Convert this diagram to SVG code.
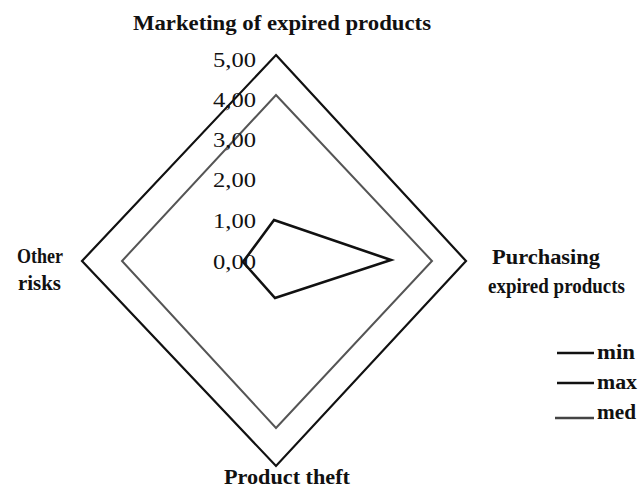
<svg xmlns="http://www.w3.org/2000/svg" width="640" height="489" viewBox="0 0 640 489">
<style>
.lbl{font-family:"Liberation Serif","Times New Roman",serif;font-weight:bold;font-size:20px;fill:#111}
.ax{font-family:"Liberation Serif","Times New Roman",serif;font-size:20px;fill:#111}
.leg{font-family:"Liberation Serif","Times New Roman",serif;font-weight:bold;font-size:20px;fill:#111}
.s{fill:none;stroke-linejoin:miter}
</style>
<rect width="640" height="489" fill="#fff"/>
<g id="connectors">
<polygon id="max" class="s" points="276,55 466,261 276,466 82,261" stroke="#111" stroke-width="2.2"/>
<polygon id="med" class="s" points="276,95 432,261 276,428 122,261" stroke="#555" stroke-width="2"/>
<polygon id="min" class="s" points="274,220 391,260 275,298 243,262" stroke="#111" stroke-width="2.6"/>
</g>
<g id="axis">
<text class="ax" x="256" y="67" text-anchor="end" textLength="43" lengthAdjust="spacingAndGlyphs">5,00</text>
<text class="ax" x="256" y="107" text-anchor="end" textLength="43" lengthAdjust="spacingAndGlyphs">4,00</text>
<text class="ax" x="256" y="147" text-anchor="end" textLength="43" lengthAdjust="spacingAndGlyphs">3,00</text>
<text class="ax" x="256" y="187" text-anchor="end" textLength="43" lengthAdjust="spacingAndGlyphs">2,00</text>
<text class="ax" x="256" y="228" text-anchor="end" textLength="43" lengthAdjust="spacingAndGlyphs">1,00</text>
<text class="ax" x="256" y="269" text-anchor="end" textLength="43" lengthAdjust="spacingAndGlyphs">0,00</text>
</g>
<g id="node-marketing"><text class="lbl" x="133" y="30" textLength="298" lengthAdjust="spacingAndGlyphs">Marketing of expired products</text></g>
<g id="node-purchasing">
<text class="lbl" x="492" y="264" font-size="21" textLength="108" lengthAdjust="spacingAndGlyphs">Purchasing</text>
<text class="lbl" x="488" y="293" font-size="21" textLength="137" lengthAdjust="spacingAndGlyphs">expired products</text>
</g>
<g id="node-theft"><text class="lbl" x="224" y="484" font-size="21" textLength="126" lengthAdjust="spacingAndGlyphs">Product theft</text></g>
<g id="node-other">
<text class="lbl" x="17" y="263" font-size="21" textLength="46" lengthAdjust="spacingAndGlyphs">Other</text>
<text class="lbl" x="18" y="290" font-size="21" textLength="43" lengthAdjust="spacingAndGlyphs">risks</text>
</g>
<g id="legend">
<line x1="557" y1="353" x2="594" y2="353" stroke="#111" stroke-width="2.4"/>
<line x1="557" y1="383" x2="594" y2="383" stroke="#111" stroke-width="2.4"/>
<line x1="555" y1="418" x2="594" y2="418" stroke="#444" stroke-width="2.4"/>
<text class="leg" x="597" y="359" textLength="38" lengthAdjust="spacingAndGlyphs">min</text>
<text class="leg" x="597" y="389" textLength="40" lengthAdjust="spacingAndGlyphs">max</text>
<text class="leg" x="597" y="419" textLength="39" lengthAdjust="spacingAndGlyphs">med</text>
</g>
</svg>
